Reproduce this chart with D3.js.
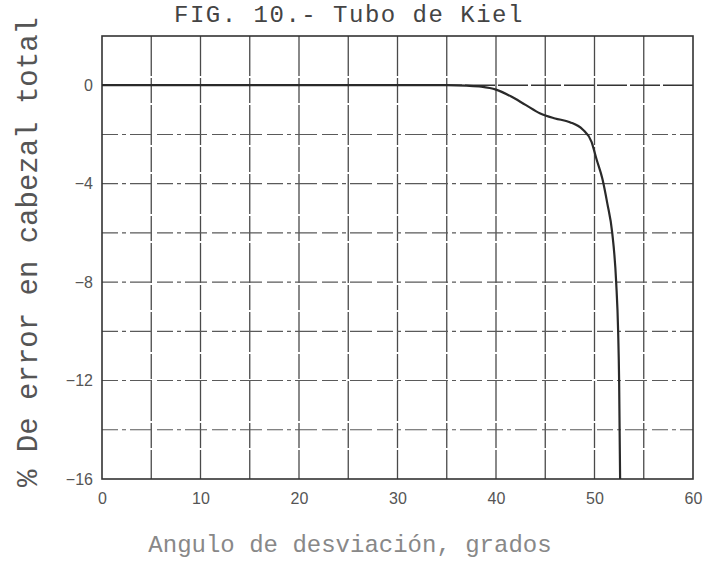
<!DOCTYPE html>
<html>
<head>
<meta charset="utf-8">
<script src="https://cdn.jsdelivr.net/npm/d3@7"></script>
<style>
  body { margin: 0; background: #fff; }
  svg { display: block; }
</style>
</head>
<body>
<svg id="chart" width="703" height="569"></svg>
<script>
// angle of deviation (degrees) vs % error in total head
const angles = [0, 10, 20, 30, 35, 37, 38.5, 40, 41.5, 43, 44.5, 46, 47.5, 48.8, 49.7, 50.2, 50.8, 51.3, 51.8, 52.2, 52.4, 52.5, 52.6];
const errors = [0, 0, 0, 0, 0, -0.02, -0.06, -0.18, -0.45, -0.8, -1.15, -1.35, -1.5, -1.8, -2.3, -3.0, -3.8, -4.8, -6, -8, -10, -12, -16];
const xTicks = [0, 10, 20, 30, 40, 50, 60];
const yTicks = [0, -4, -8, -12, -16];
const xGrid = [5, 10, 15, 20, 25, 30, 35, 40, 45, 50, 55];
const yGrid = [0, -2, -4, -6, -8, -10, -12, -14];

const svg = d3.select("#chart");
const margin = {top: 36, right: 10, bottom: 90, left: 102};
const width = Number(svg.attr("width")) - margin.left - margin.right;
const height = Number(svg.attr("height")) - margin.top - margin.bottom;
const g = svg.append("g").attr("transform", `translate(${margin.left},${margin.top})`);

const x = d3.scaleLinear().domain([0, 60]).range([0, width]);
const y = d3.scaleLinear().domain([-16, 2]).range([height, 0]);

// grid
g.selectAll(".vgrid")
  .data(xGrid)
  .enter().append("line")
  .attr("x1", d => x(d)).attr("x2", d => x(d))
  .attr("y1", 0).attr("y2", height)
  .attr("stroke", "#4a4a4a")
  .attr("stroke-width", 1.3)
  .attr("stroke-dasharray", "40,2,25,2");

g.selectAll(".hgrid")
  .data(yGrid)
  .enter().append("line")
  .attr("x1", 0).attr("x2", width)
  .attr("y1", d => y(d)).attr("y2", d => y(d))
  .attr("stroke", d => d === 0 ? "#333" : "#5a5a5a")
  .attr("stroke-width", d => d === 0 ? 1.6 : 1.1)
  .attr("stroke-dasharray", d => d === 0 ? "30,3" : "16,4,4,4,22,5");

// frame
g.append("rect")
  .attr("width", width).attr("height", height)
  .attr("fill", "none")
  .attr("stroke", "#333")
  .attr("stroke-width", 1.6);

// curve
const line = d3.line()
  .x((d, i) => x(angles[i]))
  .y(d => y(d))
  .curve(d3.curveMonotoneX);

g.append("path")
  .datum(errors)
  .attr("d", line)
  .attr("fill", "none")
  .attr("stroke", "#2a2a2a")
  .attr("stroke-width", 2.2);

// axes (labels only)
const xAxis = g.append("g")
  .attr("transform", `translate(0,${height})`)
  .call(d3.axisBottom(x).tickValues(xTicks).tickSize(0).tickPadding(14));
const yAxis = g.append("g")
  .call(d3.axisLeft(y).tickValues(yTicks).tickSize(0).tickPadding(9)
    .tickFormat(d => d === 0 ? "0" : "\u2212" + Math.abs(d)));
[xAxis, yAxis].forEach(a => {
  a.select(".domain").remove();
  a.selectAll("text")
    .attr("font-family", "Liberation Sans, Arial, sans-serif")
    .attr("font-size", 16)
    .attr("fill", "#555");
});

// titles
svg.append("text")
  .attr("x", 349).attr("y", 22)
  .attr("text-anchor", "middle")
  .attr("font-family", "Liberation Mono, Courier New, monospace")
  .attr("font-size", 24)
  .attr("letter-spacing", 1.5)
  .attr("fill", "#444")
  .text("FIG. 10.- Tubo de Kiel");

svg.append("text")
  .attr("transform", "translate(37,252) rotate(-90)")
  .attr("text-anchor", "middle")
  .attr("font-family", "Liberation Mono, Courier New, monospace")
  .attr("font-size", 29)
  .attr("fill", "#555")
  .text("% De error en cabezal total");

svg.append("text")
  .attr("x", 350).attr("y", 552)
  .attr("text-anchor", "middle")
  .attr("font-family", "Liberation Mono, Courier New, monospace")
  .attr("font-size", 24)
  .attr("fill", "#888")
  .text("Angulo de desviación, grados");
</script>
</body>
</html>
